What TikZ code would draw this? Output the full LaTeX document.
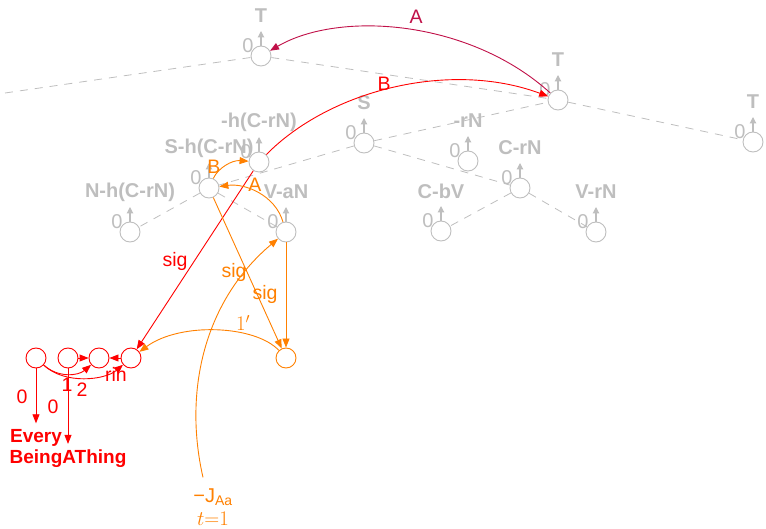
\documentclass[tikz,border=0pt]{standalone}
\usepackage{fontspec}
\setmainfont{Liberation Sans}
\usetikzlibrary{arrows.meta}
\definecolor{gcol}{RGB}{190,190,190}
\definecolor{rcol}{RGB}{255,0,0}
\definecolor{ocol}{RGB}{255,128,0}
\definecolor{ccol}{RGB}{192,16,72}
\begin{document}
\begin{tikzpicture}[x=1pt,y=-1pt,
  every node/.style={font=\fontsize{19.5}{22}\selectfont},
  gnode/.style={circle,draw=gcol,line width=0.9pt,minimum size=20pt,inner sep=0pt},
  rnode/.style={gnode,draw=rcol},
  onode/.style={gnode,draw=ocol},
  glabel/.style={text=gcol,font=\fontsize{20}{22}\selectfont\bfseries,inner sep=0pt},
  gzero/.style={text=gcol,inner sep=0pt,font=\fontsize{20}{22}\selectfont},
  gdash/.style={draw=gcol,line width=0.8pt,dash pattern=on 8pt off 7pt},
  garrow/.style={draw=gcol,line width=1.1pt,-{Triangle[length=6.5pt,width=6.5pt]}},
  tipstyle/.style={-{Triangle[length=9pt,width=7pt]}},
  redge/.style={draw=rcol,line width=0.9pt,tipstyle},
  oedge/.style={draw=ocol,line width=0.9pt,tipstyle},
  cedge/.style={draw=ccol,line width=0.9pt,tipstyle},
  rlab/.style={text=rcol,inner sep=0pt},
  olab/.style={text=ocol,inner sep=0pt},
  clab/.style={text=ccol,inner sep=0pt},
  rbold/.style={text=rcol,font=\fontsize{19}{21}\selectfont\bfseries,inner xsep=0pt,inner ysep=6pt},
]
\useasboundingbox (0,0) rectangle (766,529);

% gray tree nodes
\foreach \n/\x/\y/\t in {T1/261/56/T, T2/558/100/T, T3/753/142/T, S/364/143/S,
  rN/468/161/-rN, CrN/520/188/C-rN, CbV/441/231/C-bV, VrN/596/232/V-rN,
  hC/259/162/-h(C-rN), ShC/209/188/S-h(C-rN), NhC/130/232/N-h(C-rN), VaN/286/232/V-aN}{
  \node[gnode] (\n) at (\x,\y) {};
  \node[glabel] (\n-lab) at (\x,\y-40) {\t};
  \node[gzero] (\n-zero) at (\x-13,\y-10) {0};
  \coordinate (\n-tip) at (\x,\y-25);
  \draw[garrow] (\n) -- (\n-tip);
}
\coordinate (start) at (5,93);

% dashed tree edges
\draw[gdash] (start) -- (T1);
\draw[gdash] (T1) -- (T2);
\draw[gdash] (T2) -- (T3);
\draw[gdash] (S) -- (T2);
\draw[gdash] (S) -- (CrN);
\draw[gdash] (CrN) -- (CbV);
\draw[gdash] (CrN) -- (VrN);
\draw[gdash] (S) -- (ShC);
\draw[gdash] (ShC) -- (NhC);
\draw[gdash] (ShC) -- (VaN);

% red chain
\node[rnode] (r1) at (36,358) {};
\node[rnode] (r2) at (68,358) {};
\node[rnode] (r3) at (99,358) {};
\node[rnode] (r4) at (131,358) {};
\node[onode] (O1) at (286,358) {};
\node[rbold] (Every) at (36,438) {Every};
\node[rbold] (Being) at (68,459) {BeingAThing};
\node[olab,align=center,font=\fontsize{20}{23}\selectfont,inner sep=3pt] (J) at (213,507) {−J\textsubscript{Aa}\\$t{=}1$};

\draw[redge] (r2) -- (r3);
\draw[redge] (r4) -- (r3);
\draw[redge] (r1) .. controls (58,378) and (78,376) .. (r3);
\draw[redge] (r1) .. controls (65,385) and (105,380) .. (r4);
\draw[redge] (r1) -- (Every);
\draw[redge] (r2) -- (Being);
\node[rlab] (l1) at (67,385) {1};
\node[rlab] (l2) at (82,390) {2};
\node[rlab] (lrin) at (116,374) {rin};
\node[rlab] (l0a) at (22,397) {0};
\node[rlab] (l0b) at (53,407) {0};

% red edges
\draw[redge] (hC) .. controls (330,90) and (450,60) .. (T2);
\node[rlab] (lB) at (384,84) {B};
\draw[redge] (hC) -- (r4);
\node[rlab] (lsig) at (175,261) {sig};

% crimson edge
\draw[cedge] (T2) .. controls (470,20) and (340,10) .. (T1);
\node[clab] (lA) at (416,17) {A};

% orange edges
\draw[oedge] (ShC) .. controls (218,168) and (232,160) .. (hC);
\node[olab] (loB) at (214,167) {B};
\draw[oedge] (VaN) .. controls (275,195) and (245,183) .. (ShC);
\node[olab] (loA) at (255,185) {A};
\draw[oedge] (ShC) -- (O1);
\node[olab] (lsig2) at (265,294) {sig};
\draw[oedge] (VaN) -- (O1);
\draw[oedge] (O1) .. controls (255,325) and (180,322) .. (r4);
\node[olab,font=\fontsize{22}{24}\selectfont] (lone) at (243,323) {$1'$};
\draw[oedge] ([xshift=-10pt,yshift=8pt]J.north) .. controls (183,390) and (205,300) .. (VaN);
\node[olab] (lsig3) at (234,272) {sig};
\end{tikzpicture}
\end{document}
